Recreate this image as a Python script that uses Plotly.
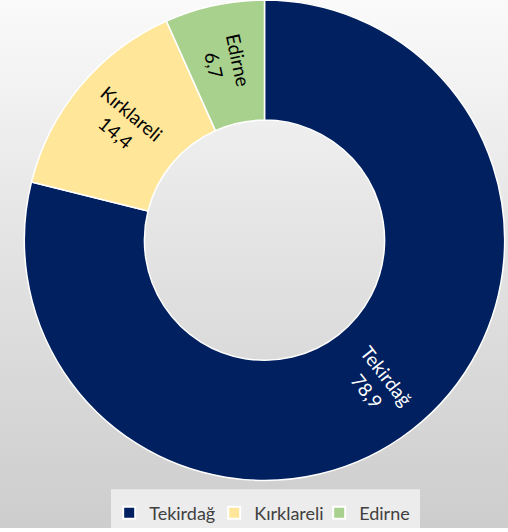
import math
import plotly.graph_objects as go

labels = ["Tekirdağ", "Kırklareli", "Edirne"]
values = [78.9, 14.4, 6.7]
colors = ["#002060", "#FFE699", "#A9D18E"]
text_colors = ["#FFFFFF", "#000000", "#000000"]

W, H = 508, 532
FONT = "Lato, 'Open Sans', sans-serif"
HOLE = 0.5
# pie domain in pixels
PX0, PX1 = 22, 507
PY0, PY1 = 0, 484

fig = go.Figure()

# background gradient
fig.add_trace(go.Scatter(
    x=[0, 1, 1, 0, 0], y=[0, 0, 1, 1, 0],
    mode="lines", line=dict(width=0), fill="toself",
    fillgradient=dict(type="vertical", start=0, stop=1,
                      colorscale=[[0, "#cdcdcd"], [0.55, "#e4e4e4"], [1, "#fafafa"]]),
    hoverinfo="skip", showlegend=False,
))

fig.add_trace(go.Pie(
    labels=labels, values=values, sort=False, direction="clockwise", rotation=0,
    hole=HOLE,
    marker=dict(colors=colors, line=dict(color="#FFFFFF", width=1.5)),
    textinfo="none",
    domain=dict(x=[PX0 / W, PX1 / W], y=[1 - PY1 / H, 1 - PY0 / H]),
    showlegend=True,
))

# radial slice labels (placed from the data values)
cx = (PX0 + PX1) / 2
cy = (PY0 + PY1) / 2
R = min(PX1 - PX0, PY1 - PY0) / 2
rmid = R * (1 + HOLE) / 2 + 2
total = sum(values)
cum = 0.0
annotations = []
for lab, v, tc in zip(labels, values, text_colors):
    mid = (cum + v / 2) / total * 360.0
    cum += v
    ang = math.radians(mid)
    px = cx + rmid * math.sin(ang)
    py = cy - rmid * math.cos(ang)
    ta = mid - 90
    if 90 < ta <= 270:
        ta -= 180
    annotations.append(dict(
        x=px / W, y=1 - py / H, xref="paper", yref="paper",
        text=f"{lab}<br>{v:.1f}".replace(".", ","), showarrow=False,
        textangle=ta, font=dict(family=FONT, size=19, color=tc),
        xanchor="center", yanchor="middle",
    ))

fig.update_layout(
    width=W, height=H,
    margin=dict(l=0, r=0, t=0, b=0),
    paper_bgcolor="#ffffff", plot_bgcolor="rgba(0,0,0,0)",
    xaxis=dict(visible=False, range=[0, 1], domain=[0, 1], fixedrange=True),
    yaxis=dict(visible=False, range=[0, 1], domain=[0, 1], fixedrange=True),
    showlegend=True,
    legend=dict(orientation="h", x=0.525, xanchor="center", y=(532 - 517) / H, yanchor="middle",
                bgcolor="rgba(0,0,0,0)", font=dict(family=FONT, size=18, color="#404040"),
                itemsizing="constant", entrywidth=60, entrywidthmode="pixels"),
    annotations=annotations,
    shapes=[dict(type="rect", xref="paper", yref="paper",
                 x0=111 / W, x1=420 / W, y0=0, y1=39 / H,
                 fillcolor="#ececec", line=dict(width=0), layer="above")],
)

fig.write_html("out.html", config={"displayModeBar": False},
               post_script="document.body.style.margin='0';document.body.style.padding='0';")
